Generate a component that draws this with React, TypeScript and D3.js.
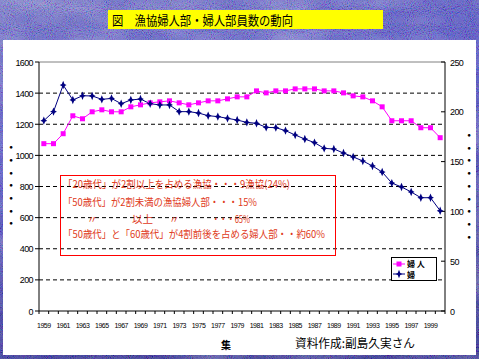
import React from 'react';
import * as d3 from 'd3';

const years: string[] = [
  '1959','1960','1961','1962','1963','1964','1965','1966','1967','1968',
  '1969','1970','1971','1972','1973','1974','1975','1976','1977','1978',
  '1979','1980','1981','1982','1983','1984','1985','1986','1987','1988',
  '1989','1990','1991','1992','1993','1994','1995','1996','1997','1998',
  '1999','2000'
];

// 婦人部員数 (right axis)
const members: number[] = [
  168, 168, 178, 196, 193, 200, 202, 200, 200, 205,
  207, 209, 210, 211, 209, 207, 209, 211, 211, 213,
  215, 215, 221, 219, 221, 221, 223, 223, 223, 221,
  221, 219, 216, 215, 211, 205, 191, 191, 191, 184,
  184, 174
];

// 婦人部数 (left axis)
const groups: number[] = [
  1223, 1281, 1452, 1356, 1383, 1382, 1360, 1366, 1332, 1356,
  1362, 1332, 1324, 1324, 1281, 1281, 1272, 1255, 1249, 1238,
  1227, 1212, 1206, 1180, 1178, 1159, 1131, 1105, 1082, 1045,
  1041, 1015, 990, 964, 932, 893, 822, 797, 765, 728,
  728, 644
];

const leftTicks: number[] = [0, 200, 400, 600, 800, 1000, 1200, 1400, 1600];
const rightTicks: number[] = [0, 50, 100, 150, 200, 250];
const gridValues: number[] = [200, 400, 600, 800, 1000, 1200, 1400];

const title = '図　漁協婦人部・婦人部員数の動向';
const noteLines: string[] = [
  '「20歳代」が2割以上を占める漁協・・・9漁協(24%)',
  '「50歳代」が2割未満の漁協婦人部・・・15%',
  '「50歳代」と「60歳代」が4割前後を占める婦人部・・約60%'
];
const legendLabels: string[] = ['婦 人', '婦'];
const source = '資料作成:副島久実さん';

const PINK = '#FF00FF';
const NAVY = '#000080';
const RED = '#E03A1A';
const JP = '"Noto Sans CJK JP", sans-serif';
const NUM = '"Liberation Sans", Arial, sans-serif';

const starSymbol = {
  draw(ctx: any) {
    ctx.moveTo(0, -4.2);
    ctx.lineTo(1.3, -1.1);
    ctx.lineTo(3.4, 0);
    ctx.lineTo(1.3, 1.1);
    ctx.lineTo(0, 4.2);
    ctx.lineTo(-1.3, 1.1);
    ctx.lineTo(-3.4, 0);
    ctx.lineTo(-1.3, -1.1);
    ctx.closePath();
  }
};

export default function App() {
  const L = 39, R = 445, T = 62, B = 311;
  const x = d3.scaleBand<string>().domain(years).range([L, R]).padding(0);
  const cx = (y: string) => (x(y) as number) + x.bandwidth() / 2;
  const yL = d3.scaleLinear().domain([0, 1600]).range([B, T]);
  const yR = d3.scaleLinear().domain([0, 250]).range([B, T]);

  const pinkLine = d3.line<number>().x((_, i) => cx(years[i])).y(d => yR(d))(members) as string;
  const navyLine = d3.line<number>().x((_, i) => cx(years[i])).y(d => yL(d))(groups) as string;
  const star = d3.symbol().type(starSymbol as any)() as string;

  const xLabelYears = years.filter((_, i) => i % 2 === 0);

  return (
    <svg width={479} height={359} style={{ position: 'fixed', left: 0, top: 0 }}>
      <defs>
        <linearGradient id="bg" x1="0" y1="0" x2="0.3" y2="1">
          <stop offset="0" stopColor="#6468c8" />
          <stop offset="0.45" stopColor="#3e40c4" />
          <stop offset="1" stopColor="#1a1c88" />
        </linearGradient>
        <filter id="noise" x="0" y="0" width="100%" height="100%">
          <feTurbulence type="fractalNoise" baseFrequency="0.95" numOctaves="2" seed="4" />
          <feColorMatrix type="matrix" values="2 0 0 0 -0.5  0 2 0 0 -0.55  0 0 2 0 -0.4  0 0 0 0 0.3" />
        </filter>
        <filter id="cloud" x="0" y="0" width="100%" height="100%">
          <feTurbulence type="fractalNoise" baseFrequency="0.012 0.03" numOctaves="3" seed="7" />
          <feColorMatrix type="matrix" values="0 0 0 0 0.75  0 0 0 0 0.75  0 0 0 0 0.9  1.6 0 0 0 -0.62" />
        </filter>
      </defs>
      <rect x={0} y={0} width={479} height={359} fill="url(#bg)" />
      <rect x={0} y={0} width={479} height={359} filter="url(#cloud)" opacity={0.5} />
      <rect x={0} y={0} width={479} height={359} filter="url(#noise)" />

      {/* title */}
      <rect x={108} y={10} width={275} height={19} fill="#FFFF00" />
      <text x={112} y={25} fontFamily={JP} fontSize={13} fill="#000" textLength={181} lengthAdjust="spacingAndGlyphs">{title}</text>

      {/* white panel */}
      <rect x={3} y={40} width={473} height={315} fill="#fff" />

      {/* gridlines */}
      {gridValues.map(v => (
        <line key={'g' + v} x1={L} x2={R} y1={yL(v)} y2={yL(v)} stroke="#000" strokeWidth={1} strokeDasharray="4,3" />
      ))}
      <line x1={L} x2={R} y1={yL(1600)} y2={yL(1600)} stroke="#808080" strokeWidth={1} />

      {/* axes */}
      <line x1={L} x2={L} y1={T} y2={B} stroke="#000" />
      <line x1={R} x2={R} y1={T} y2={B} stroke="#000" />
      <line x1={L} x2={R} y1={B} y2={B} stroke="#000" />
      {leftTicks.map(v => (
        <g key={'lt' + v}>
          <line x1={L - 4} x2={L} y1={yL(v)} y2={yL(v)} stroke="#000" />
          <text x={33} y={yL(v) + 3.5} textAnchor="end" fontFamily={NUM} fontSize={9} letterSpacing={-0.6} fill="#000">{v}</text>
        </g>
      ))}
      {rightTicks.map(v => (
        <g key={'rt' + v}>
          <line x1={R} x2={R - 4} y1={yR(v)} y2={yR(v)} stroke="#000" />
          <text x={450} y={yR(v) + 3.5} textAnchor="start" fontFamily={NUM} fontSize={9} letterSpacing={-0.6} fill="#000">{v}</text>
        </g>
      ))}
      {years.map(yv => (
        <line key={'xt' + yv} x1={x(yv) as number} x2={x(yv) as number} y1={B} y2={B + 3} stroke="#000" />
      ))}
      <line x1={R} x2={R} y1={B} y2={B + 3} stroke="#000" />
      {xLabelYears.map(yv => (
        <text key={'xl' + yv} x={cx(yv)} y={328} textAnchor="middle" fontFamily={NUM} fontSize={7} letterSpacing={-0.5} fill="#000">{yv}</text>
      ))}

      {/* garbled axis titles */}
      <text x={11} y={141} fontFamily={JP} fontSize={12.7} style={{ writingMode: 'vertical-rl' as any }} fill="#000">{'・・・・・・・'}</text>
      <text x={469} y={128.6} fontFamily={JP} fontSize={12.75} style={{ writingMode: 'vertical-rl' as any }} fill="#000">{'・・・・・・・・・'}</text>
      <text x={226} y={349} textAnchor="middle" fontFamily={JP} fontSize={10} fontWeight="bold" fill="#000">集</text>

      {/* series */}
      <path d={pinkLine} fill="none" stroke={PINK} strokeWidth={1} />
      <path d={navyLine} fill="none" stroke={NAVY} strokeWidth={1} />
      {members.map((v, i) => (
        <rect key={'pm' + i} x={cx(years[i]) - 2.5} y={yR(v) - 2.5} width={5} height={5} fill={PINK} />
      ))}
      {groups.map((v, i) => (
        <path key={'nm' + i} d={star} transform={`translate(${cx(years[i])},${yL(v)})`} fill={NAVY} />
      ))}

      {/* annotation box */}
      <rect x={60.5} y={175.5} width={275} height={80} fill="none" stroke="#FF0000" strokeWidth={1} />
      <text x={63} y={188} fontFamily={JP} fontSize={10.5} fill={RED} textLength={227} lengthAdjust="spacingAndGlyphs">{noteLines[0]}</text>
      <text x={63} y={206} fontFamily={JP} fontSize={10.5} fill={RED} textLength={194} lengthAdjust="spacingAndGlyphs">{noteLines[1]}</text>
      <text x={87} y={222.5} fontFamily={JP} fontSize={10.5} fill={RED}>〃</text>
      <text x={132} y={222.5} fontFamily={JP} fontSize={10.5} fill={RED}>以上</text>
      <text x={169} y={222.5} fontFamily={JP} fontSize={10.5} fill={RED}>〃</text>
      <text x={212} y={222.5} fontFamily={JP} fontSize={10.5} fill={RED} textLength={38} lengthAdjust="spacingAndGlyphs">・・・65%</text>
      <text x={63} y={237.5} fontFamily={JP} fontSize={10.5} fill={RED} textLength={262} lengthAdjust="spacingAndGlyphs">{noteLines[2]}</text>

      {/* legend */}
      <rect x={391.5} y={257.5} width={45} height={23} fill="#fff" stroke="#000" strokeWidth={1} />
      <line x1={393} x2={405} y1={264} y2={264} stroke={PINK} />
      <rect x={396.5} y={261.5} width={5} height={5} fill={PINK} />
      <text x={407} y={267} fontFamily={JP} fontSize={8} fontWeight="bold" fill="#000">{legendLabels[0]}</text>
      <line x1={393} x2={405} y1={274} y2={274} stroke={NAVY} />
      <path d={star} transform="translate(399,274)" fill={NAVY} />
      <text x={407} y={277.5} fontFamily={JP} fontSize={8} fontWeight="bold" fill="#000">{legendLabels[1]}</text>

      {/* source */}
      <text x={295} y={348} fontFamily={JP} fontSize={12} fill="#000" textLength={120} lengthAdjust="spacingAndGlyphs">{source}</text>
    </svg>
  );
}
